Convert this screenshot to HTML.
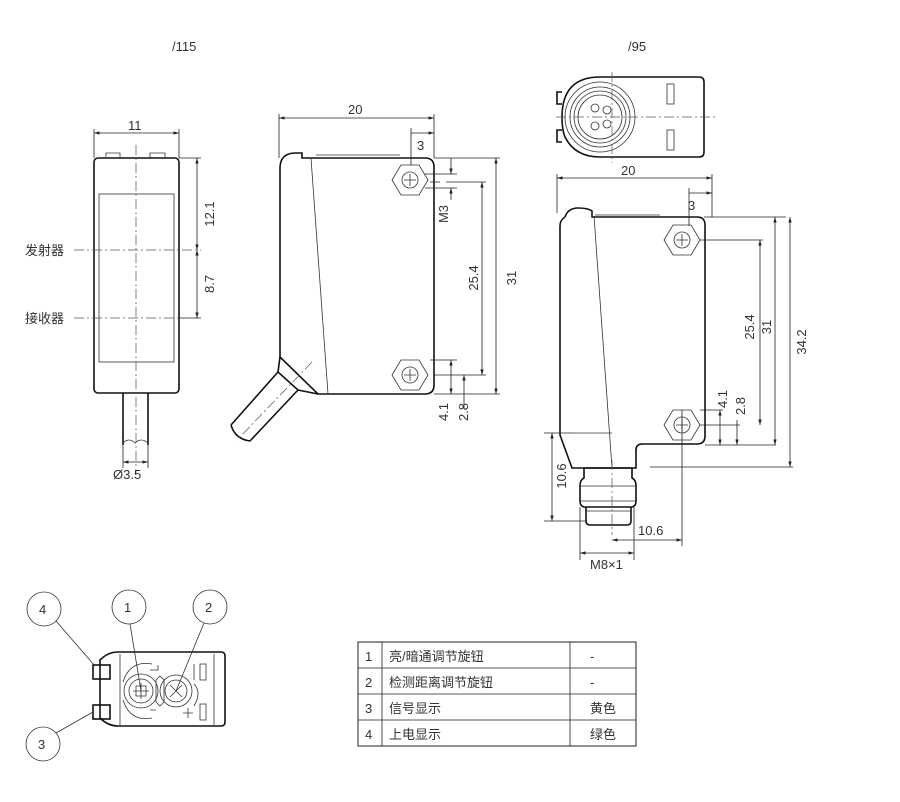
<!DOCTYPE html>
<html><head><meta charset="utf-8"><style>
html,body{margin:0;padding:0;background:#fff;width:900px;height:802px;overflow:hidden}
svg{display:block}
text{font-family:"Liberation Sans","Noto Sans CJK SC",sans-serif;fill:#333;font-size:13px}
.b{fill:none;stroke:#111;stroke-width:1.6}
.t{fill:none;stroke:#333;stroke-width:0.8}
.c{fill:none;stroke:#555;stroke-width:0.7;stroke-dasharray:10 3 2 3}
.d{fill:none;stroke:#222;stroke-width:0.8}
</style></head><body>
<svg width="900" height="802" viewBox="0 0 900 802">
<defs>
<marker id="a" viewBox="0 0 10 10" refX="10" refY="5" markerWidth="7" markerHeight="7" orient="auto-start-reverse"><path d="M0,2 L10,5 L0,8z" fill="#222"/></marker>
</defs>
<text x="172" y="51">/115</text>
<text x="628" y="51">/95</text>

<!-- FRONT VIEW -->
<rect x="94" y="158" width="85" height="235" rx="4" class="b"/>
<rect x="99" y="194" width="75" height="168" class="t"/>
<path d="M106,158 v-5 h14 v5 M150,158 v-5 h15 v5" class="t"/>
<line x1="136" y1="145" x2="136" y2="475" class="c"/>
<path d="M123,393 V445 M148,393 V445" class="b"/>
<path d="M123,443 q6,-6 12,0 q6,-6 13,0" class="t"/>
<line x1="94" y1="133" x2="179" y2="133" class="d" marker-start="url(#a)" marker-end="url(#a)"/>
<path d="M94,129 V158 M179,129 V158" class="d"/>
<text x="128" y="130">11</text>
<path d="M179,158 H201 M179,318 H201" class="d"/>
<line x1="197" y1="158" x2="197" y2="250" class="d" marker-start="url(#a)" marker-end="url(#a)"/>
<line x1="197" y1="250" x2="197" y2="318" class="d" marker-start="url(#a)" marker-end="url(#a)"/>
<line x1="74" y1="250" x2="201" y2="250" class="c"/>
<line x1="74" y1="318" x2="200" y2="318" class="c"/>
<text x="25" y="255">发射器</text>
<text x="25" y="323">接收器</text>
<text transform="translate(214,214) rotate(-90)" text-anchor="middle">12.1</text>
<text transform="translate(214,284) rotate(-90)" text-anchor="middle">8.7</text>
<path d="M123,445 V468 M148,445 V468" class="d"/>
<line x1="123" y1="462" x2="148" y2="462" class="d" marker-start="url(#a)" marker-end="url(#a)"/>
<text x="113" y="479">Ø3.5</text>

<!-- SIDE VIEW -->
<path d="M280,168 q0,-14 14,-15 h8 v5 h3 H425 q9,0 9,9 V385 q0,9 -9,9 H318 L280,357 Z" class="b"/>
<path d="M311,158 L328,394 M316,155 H400" class="t"/>
<path d="M280,357 L278,372 L298,390 L318,394 M278,372 L231,425 M298,390 L250,441 M231,425 q4,14 19,16" class="b"/>
<line x1="312" y1="362" x2="237" y2="440" class="c"/>
<polygon points="392,180 401,165 419,165 428,180 419,195 401,195" class="t"/>
<circle cx="410" cy="180" r="8" class="t"/>
<polygon points="392,375 401,360 419,360 428,375 419,390 401,390" class="t"/>
<circle cx="410" cy="375" r="8" class="t"/>
<path d="M404,180h12M410,174v12M404,375h12M410,369v12" class="t"/>
<line x1="279" y1="118" x2="434" y2="118" class="d" marker-start="url(#a)" marker-end="url(#a)"/>
<path d="M279,114 V158 M434,114 V158 M411,128 V165" class="d"/>
<text x="348" y="114">20</text>
<line x1="411" y1="133" x2="434" y2="133" class="d" marker-end="url(#a)"/>
<text x="417" y="150">3</text>
<path d="M434,158 H500 M434,394 H500 M425,174 H457 M425,188 H457 M430,182 H440 M446,182 H486 M434,375 H486 M430,360 H457 M446,394 H460" class="d"/>
<line x1="451" y1="158" x2="451" y2="174" class="d" marker-end="url(#a)"/>
<line x1="451" y1="200" x2="451" y2="188" class="d" marker-end="url(#a)"/>
<line x1="451" y1="360" x2="451" y2="394" class="d" marker-start="url(#a)" marker-end="url(#a)"/>
<line x1="464" y1="408" x2="464" y2="375" class="d" marker-end="url(#a)"/>
<line x1="482" y1="182" x2="482" y2="375" class="d" marker-start="url(#a)" marker-end="url(#a)"/>
<line x1="496" y1="158" x2="496" y2="394" class="d" marker-start="url(#a)" marker-end="url(#a)"/>
<text transform="translate(448,214) rotate(-90)" text-anchor="middle">M3</text>
<text transform="translate(478,278) rotate(-90)" text-anchor="middle">25.4</text>
<text transform="translate(516,278) rotate(-90)" text-anchor="middle">31</text>
<text transform="translate(448,412) rotate(-90)" text-anchor="middle">4.1</text>
<text transform="translate(468,412) rotate(-90)" text-anchor="middle">2.8</text>

<!-- TOP END VIEW -->
<path d="M600,77 H699 q5,0 5,5 V152 q0,5 -5,5 H600 q-25,0 -35,-20 Q562,130 562,117 Q562,77 600,77 Z" class="b"/>
<path d="M562,92 h-5 v12 h5 M562,130 h-5 v12 h5" class="b"/>
<circle cx="600" cy="117" r="35" class="t"/>
<circle cx="600" cy="117" r="30" class="t"/>
<circle cx="600" cy="117" r="26" class="t"/>
<circle cx="600" cy="117" r="22" class="t"/>
<circle cx="595" cy="108" r="4" class="t"/><circle cx="607" cy="110" r="4" class="t"/>
<circle cx="595" cy="126" r="4" class="t"/><circle cx="607" cy="124" r="4" class="t"/>
<line x1="556" y1="117" x2="715" y2="117" class="c"/>
<line x1="612" y1="72" x2="612" y2="163" class="c"/>
<rect x="667" y="84" width="7" height="20" class="t"/>
<rect x="667" y="130" width="7" height="20" class="t"/>

<!-- RIGHT SIDE VIEW -->
<path d="M565,217 q-5,3 -5,9 V435 L572,468 H636 V450 q0,-6 6,-6 H697 q8,0 8,-8 V225 q0,-8 -8,-8 H592 v-6 q-4,-3 -14,-3 Q568,208 565,217" class="b"/>
<path d="M594,216 L612,468 M595,215 H660 M573,433 H612" class="t"/>
<path d="M584,468 H632 V478 q4,2 4,8 V501 q0,5 -4,6 H584 q-4,-1 -4,-6 V486 q0,-6 4,-8 Z" class="b"/>
<path d="M586,507 V521 q0,4 4,4 H627 q4,0 4,-4 V507" class="b"/>
<path d="M580,486 H636 M580,501 H636 M586,511 H631" class="t"/>
<line x1="612" y1="460" x2="612" y2="535" class="c"/>
<polygon points="664,240 673,225 691,225 700,240 691,255 673,255" class="t"/>
<circle cx="682" cy="240" r="8" class="t"/>
<polygon points="664,425 673,410 691,410 700,425 691,440 673,440" class="t"/>
<circle cx="682" cy="425" r="8" class="t"/>
<path d="M676,240h12M682,234v12M676,425h12M682,419v12" class="t"/>
<line x1="557" y1="178" x2="712" y2="178" class="d" marker-start="url(#a)" marker-end="url(#a)"/>
<path d="M557,174 V213 M712,174 V217 M689,188 V226" class="d"/>
<text x="621" y="175">20</text>
<line x1="689" y1="193" x2="712" y2="193" class="d" marker-end="url(#a)"/>
<text x="688" y="210">3</text>
<path d="M704,217 H786 M700,240 H763 M700,410 H723 M705,445 H776 M650,467 H793 M682,410 V546" class="d"/>
<line x1="760" y1="240" x2="760" y2="425" class="d" marker-start="url(#a)" marker-end="url(#a)"/>
<line x1="775" y1="217" x2="775" y2="445" class="d" marker-start="url(#a)" marker-end="url(#a)"/>
<line x1="790" y1="217" x2="790" y2="467" class="d" marker-start="url(#a)" marker-end="url(#a)"/>
<line x1="720" y1="410" x2="720" y2="445" class="d" marker-start="url(#a)" marker-end="url(#a)"/>
<line x1="737" y1="420" x2="737" y2="445" class="d" marker-end="url(#a)"/>
<path d="M700,425 H740" class="d"/>
<text transform="translate(754,327) rotate(-90)" text-anchor="middle">25.4</text>
<text transform="translate(771,327) rotate(-90)" text-anchor="middle">31</text>
<text transform="translate(806,342) rotate(-90)" text-anchor="middle">34.2</text>
<text transform="translate(727,399) rotate(-90)" text-anchor="middle">4.1</text>
<text transform="translate(745,406) rotate(-90)" text-anchor="middle">2.8</text>
<path d="M544,433 H573 M544,521 H586" class="d"/>
<line x1="552" y1="433" x2="552" y2="521" class="d" marker-start="url(#a)" marker-end="url(#a)"/>
<text transform="translate(566,476) rotate(-90)" text-anchor="middle">10.6</text>
<line x1="612" y1="540" x2="682" y2="540" class="d" marker-start="url(#a)" marker-end="url(#a)"/>
<text x="638" y="535">10.6</text>
<path d="M580,507 V560 M634,507 V560" class="d"/>
<line x1="580" y1="553" x2="634" y2="553" class="d" marker-start="url(#a)" marker-end="url(#a)"/>
<text x="590" y="569">M8×1</text>

<!-- BOTTOM LEFT -->
<path d="M100,660 q8,-8 18,-8 H221 q4,0 4,4 V722 q0,4 -4,4 H118 q-10,0 -18,-8 Z" class="b"/>
<path d="M214,654 V725" class="t"/>
<rect x="93" y="665" width="17" height="14" class="b"/>
<rect x="93" y="705" width="17" height="14" class="b"/>
<path d="M120,654 V725" class="t"/>
<circle cx="141" cy="691" r="17" class="t"/><circle cx="141" cy="691" r="12" class="t"/>
<circle cx="176" cy="691" r="16" class="t"/><circle cx="176" cy="691" r="11" class="t"/>
<path d="M136,686 h10 v10 h-10z M141,683 v16 M133,691 h16" class="t"/>
<path d="M170,685 l12,12 M182,685 l-12,12" class="t"/>
<path d="M156,680 l4,-4 l4,4 v22 l-4,4 l-4,-4z" class="t"/>
<path d="M150,670 h8 v-5 M150,710 h6 M194,664 v16 M200,664 h6 v16 h-6z M200,704 h6 v16 h-6z M188,708 v10 M183,713 h10" class="t"/>
<path d="M123,682 Q130,660 152,664 M123,700 Q130,722 152,718 M194,684 q8,8 0,22" class="t"/>
<circle cx="44" cy="609" r="17" class="t"/><text x="39" y="614">4</text>
<circle cx="129" cy="607" r="17" class="t"/><text x="124" y="612">1</text>
<circle cx="210" cy="607" r="17" class="t"/><text x="205" y="612">2</text>
<circle cx="43" cy="744" r="17" class="t"/><text x="38" y="749">3</text>
<path d="M56,621 L95,666 M130,624 L141,691 M204,623 L176,691 M56,733 L93,712" class="t"/>

<!-- TABLE -->
<g class="d">
<rect x="358" y="642" width="278" height="104" style="fill:none;stroke:#222;stroke-width:1"/>
<path d="M358,668 H636 M358,694 H636 M358,720 H636 M382,642 V746 M570,642 V746"/>
</g>
<text x="365" y="661">1</text><text x="389" y="661">亮/暗通调节旋钮</text><text x="590" y="661">-</text>
<text x="365" y="687">2</text><text x="389" y="687">检测距离调节旋钮</text><text x="590" y="687">-</text>
<text x="365" y="713">3</text><text x="389" y="713">信号显示</text><text x="590" y="713">黄色</text>
<text x="365" y="739">4</text><text x="389" y="739">上电显示</text><text x="590" y="739">绿色</text>
</svg>
</body></html>
